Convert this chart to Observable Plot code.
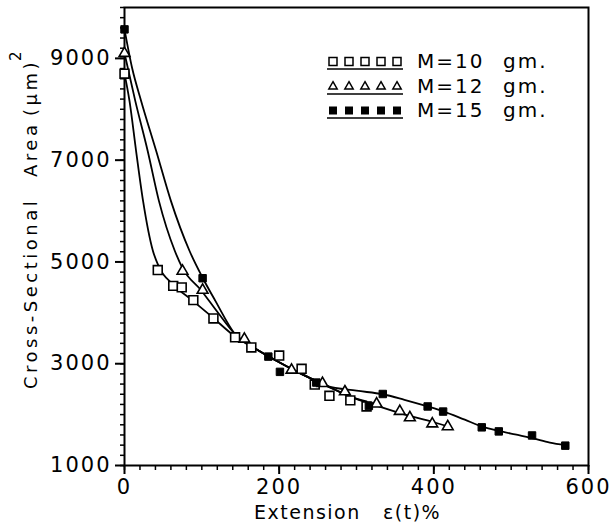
<!DOCTYPE html>
<html><head><meta charset="utf-8">
<script src="https://cdn.jsdelivr.net/npm/d3@7"></script>
<script src="https://cdn.jsdelivr.net/npm/@observablehq/plot@0.6"></script>
<style>
body{margin:0;background:#fff;}
#wrap{position:relative;width:613px;height:525px;}
#wrap svg.overlay{position:absolute;left:0;top:0;pointer-events:none;}
#wrap [aria-label="x-axis tick label"] text,#wrap [aria-label="y-axis tick label"] text{letter-spacing:2px;}
</style></head><body><div id="wrap"></div>
<script>
// tick values
const xTicks = [0, 200, 400, 600];
const yTicks = [1000, 3000, 5000, 7000, 9000];
const xMinor = d3.range(0, 601, 20);
const yMinor = d3.range(1000, 10001, 200);

// measured points
const m10Ext  = [0, 43, 63, 74, 89, 115, 143, 164, 200, 229, 246, 265, 292, 313];
const m10Area = [8700, 4840, 4530, 4500, 4250, 3890, 3520, 3320, 3160, 2900, 2590, 2370, 2280, 2160];
const m12Ext  = [0, 75, 101, 155, 216, 256, 285, 326, 356, 369, 398, 418];
const m12Area = [9100, 4820, 4445, 3485, 2876, 2614, 2450, 2210, 2065, 1940, 1820, 1765];
const m15Ext  = [0, 101, 186, 201, 248, 316, 334, 392, 412, 462, 484, 527, 570];
const m15Area = [9570, 4680, 3140, 2840, 2630, 2170, 2405, 2160, 2060, 1750, 1670, 1590, 1390];

// fitted curves
const fit10Ext  = [0, 6.5, 15, 24, 36.7, 45, 62.6, 88.5, 114, 142.5, 170, 200, 230, 261, 292, 313];
const fit10Area = [8700, 8160, 7180, 6200, 5220, 4890, 4560, 4235, 3910, 3540, 3290, 3030, 2790, 2570, 2355, 2260];
const fit12Ext  = [0, 14, 30, 44.5, 65, 75, 99, 120, 143, 170, 200, 230, 261, 292, 326, 356, 400, 419];
const fit12Area = [9100, 8160, 7180, 6200, 5220, 4880, 4445, 4020, 3580, 3290, 3030, 2790, 2570, 2355, 2176, 2030, 1850, 1765];
const fit15Ext  = [0, 10, 21.6, 41, 60, 84, 101, 117.5, 143, 170, 200, 230, 261, 300, 334, 362, 392, 413, 440, 462, 484, 505, 527, 550, 570];
const fit15Area = [9570, 8800, 8160, 7180, 6200, 5220, 4690, 4235, 3580, 3290, 3030, 2790, 2570, 2470, 2400, 2290, 2160, 2060, 1900, 1770, 1680, 1610, 1540, 1450, 1400];

const legendLabels = ["M=10", "M=12", "M=15"];
const legendUnit = "gm.";
const yLabelParts = ["Cross-Sectional", "Area", "(\u03bcm)", "2"];
const xLabelParts = ["Extension", "\u03b5(t)%"];

const pts = (xs, ys) => xs.map((x, i) => ({x, y: ys[i]}));
const m10 = pts(m10Ext, m10Area), m12 = pts(m12Ext, m12Area), m15 = pts(m15Ext, m15Area);
const f10 = pts(fit10Ext, fit10Area), f12 = pts(fit12Ext, fit12Area), f15 = pts(fit15Ext, fit15Area);

const xDom = [0, 600], yDom = [1000, 10000];
// minor tick lengths as small offsets in data units (about 5px / 4px)
const xTickLen = 98, yTickLen = 5.2;

const lineOpts = {x: "x", y: "y", curve: "monotone-x", stroke: "black", strokeWidth: 1.8};
const chart = Plot.plot({
  width: 613, height: 525,
  marginLeft: 124, marginRight: 25, marginTop: 7, marginBottom: 60,
  x: {domain: xDom},
  y: {domain: yDom},
  style: {fontFamily: "DejaVu Sans", fontSize: "21px", color: "black", background: "white"},
  marks: [
    Plot.axisX({ticks: xTicks, tickSize: 9, tickPadding: 5, strokeWidth: 2, tickFormat: d3.format("d"), label: null}),
    Plot.axisY({ticks: yTicks, tickSize: 9, tickPadding: 4, strokeWidth: 2, tickFormat: d3.format("d"), label: null}),
    Plot.ruleX(xMinor, {x: d => d, y1: yDom[0], y2: yDom[0] - xTickLen, stroke: "black", strokeWidth: 1.5}),
    Plot.ruleY(yMinor, {y: d => d, x1: xDom[0], x2: xDom[0] - yTickLen, stroke: "black", strokeWidth: 1.5}),
    Plot.frame({strokeWidth: 2}),
    Plot.line(f10, lineOpts),
    Plot.line(f12, lineOpts),
    Plot.line(f15, lineOpts),
    Plot.dot(m10, {x: "x", y: "y", symbol: "square", r: 5, fill: "white", stroke: "black", strokeWidth: 1.6}),
    Plot.dot(m12, {x: "x", y: "y", symbol: "triangle", r: 4, fill: "white", stroke: "black", strokeWidth: 1.6}),
    Plot.dot(m15, {x: "x", y: "y", symbol: "square", r: 4.2, fill: "black", stroke: "black", strokeWidth: 1})
  ]
});
const wrap = document.getElementById("wrap");
wrap.appendChild(chart);

// overlay: legend and axis titles
const svg = d3.select(wrap).append("svg").attr("class", "overlay")
  .attr("width", 613).attr("height", 525)
  .style("font-family", "DejaVu Sans").style("fill", "black");

const symTypes = [d3.symbolSquare, d3.symbolTriangle, d3.symbolSquare];
const symSizes = [64, 30, 42];
const symFill = ["white", "white", "black"];
const rowBase = [68, 93, 117];
legendLabels.forEach((lab, r) => {
  const cy = rowBase[r] - 6.5;
  for (let k = 0; k < 5; k++) {
    svg.append("path")
      .attr("d", d3.symbol(symTypes[r], symSizes[r])())
      .attr("transform", `translate(${333 + k * 16},${cy})`)
      .attr("fill", symFill[r]).attr("stroke", "black").attr("stroke-width", 1.5);
  }
  svg.append("line").attr("x1", 327).attr("x2", 403)
    .attr("y1", rowBase[r] + 1).attr("y2", rowBase[r] + 1)
    .attr("stroke", "black").attr("stroke-width", 1.6);
  const t = svg.append("text").attr("y", rowBase[r]).style("font-size", "20px").style("letter-spacing", "2px");
  t.append("tspan").attr("x", 417).text(lab);
  t.append("tspan").attr("x", 503).text(legendUnit);
});

const yl = svg.append("text").attr("transform", "translate(37,389) rotate(-90)")
  .style("font-size", "18px").style("letter-spacing", "3.5px");
yl.append("tspan").attr("x", 0).text(yLabelParts[0]);
yl.append("tspan").attr("x", 212).text(yLabelParts[1]);
yl.append("tspan").attr("x", 273).text(yLabelParts[2]);
yl.append("tspan").attr("x", 328).attr("dy", -16).style("font-size", "15px").text(yLabelParts[3]);

const xl = svg.append("text").attr("y", 519).style("font-size", "19px").style("letter-spacing", "1.5px");
xl.append("tspan").attr("x", 254).text(xLabelParts[0]);
xl.append("tspan").attr("x", 383).text(xLabelParts[1]);
</script>
</body></html>
